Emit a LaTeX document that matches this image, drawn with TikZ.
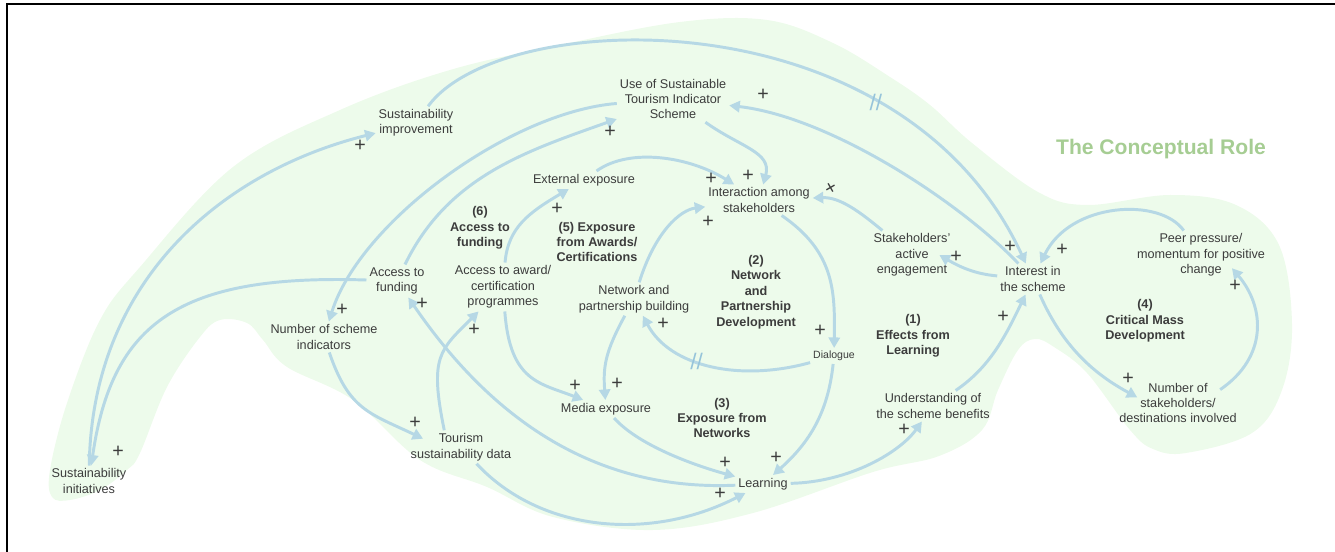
\documentclass[tikz,border=0pt]{standalone}
\usepackage{fontspec}
\setmainfont{Liberation Sans}
\usetikzlibrary{arrows.meta}
\definecolor{blob}{RGB}{237,251,235}
\definecolor{flow}{RGB}{182,216,229}
\definecolor{flowdark}{RGB}{150,196,218}
\definecolor{ink}{RGB}{60,60,60}
\definecolor{rolegreen}{RGB}{166,205,147}

\begin{document}
\begin{tikzpicture}[x=0.025cm, y=0.025cm,
		    var/.style={align=center, text=ink, inner sep=2pt, font=\fontsize{9}{11}\selectfont},
		    loopname/.style={var, font=\fontsize{9}{11}\selectfont\bfseries},
		    link/.style={draw=flow, line width=2.1pt, -{Triangle[length=7.5pt,width=8pt]}},
		    sign/.style={text=ink, inner sep=0pt, font=\fontsize{14}{14}\selectfont},
		    delay/.style={text=flowdark, inner sep=0pt, font=\fontsize{16}{16}\selectfont}]

\useasboundingbox (0,0) rectangle (1335,552);
\fill[blob] plot[smooth cycle, tension=0.6] coordinates {
    (52,55) (50,82) (67,149) (100,232) (140,285) (233,385) (340,442) (450,482)
    (560,507) (680,530) (767,532) (833,509) (890,475) (930,447) (972,409)
    (1038,360) (1087,347) (1170,357) (1236,347) (1279,307) (1292,228) (1282,162)
    (1252,119) (1186,99) (1153,103) (1130,122) (1087,179) (1054,205) (1035,213)
    (1018,202) (998,162) (982,122) (939,96) (873,80) (753,39) (653,22) (553,35)
    (487,65) (420,92) (353,152) (287,185) (263,212) (247,229) (220,232) (200,215)
    (167,165) (140,99) (127,82) (100,62) (70,52)};
\draw[line width=1.4pt] (7,0) -- (7,548.3) -- (1335,548.3);

\node[var] (initiatives) at (89,71) {Sustainability\\initiatives};
\node[var] (improvement) at (416,429) {Sustainability\\improvement};
\node[var] (scheme) at (673,453) {Use of Sustainable\\Tourism Indicator\\Scheme};
\node[var] (external) at (584,372) {External exposure};
\node[var] (interaction) at (759,352) {Interaction among\\stakeholders};
\node[var] (funding) at (397,271) {Access to\\funding};
\node[var] (award) at (503,265) {Access to award/\\certification\\programmes};
\node[var] (network) at (634,253) {Network and\\partnership building};
\node[var] (indicators) at (324,215) {Number of scheme\\indicators};
\node[var] (data) at (461,105) {Tourism\\sustainability data};
\node[var] (media) at (606,143) {Media exposure};
\node[var] (learning) at (763,68) {Learning};
\node[var, font=\fontsize{7.5}{9}\selectfont] (dialogue) at (834,196) {Dialogue};
\node[var] (understanding) at (933,146) {Understanding of\\the scheme benefits};
\node[var] (engagement) at (912,297) {Stakeholders'\\active\\engagement};
\node[var] (interest) at (1033,273) {Interest in\\the scheme};
\node[var] (peer) at (1201,297) {Peer pressure/\\momentum for positive\\change};
\node[var] (involved) at (1178,149) {Number of\\stakeholders/\\destinations involved};

\node[loopname] (loop1) at (913,216) {(1)\\Effects from\\Learning};
\node[loopname] (loop2) at (756,260) {(2)\\Network\\and\\Partnership\\Development};
\node[loopname] (loop3) at (722,134) {(3)\\Exposure from\\Networks};
\node[loopname] (loop4) at (1145,231) {(4)\\Critical Mass\\Development};
\node[loopname] (loop5) at (597,310) {(5) Exposure\\from Awards/\\Certifications};
\node[loopname] (loop6) at (480,324) {(6)\\Access to\\funding};
\node[text=rolegreen, font=\fontsize{15}{18}\selectfont\bfseries] (title) at (1161,403) {The Conceptual Role};

\draw[link] (initiatives) .. controls (92,270) and (220,380) .. (improvement);
\draw[link] (improvement) .. controls (500,545) and (900,560) .. (interest) node[delay, pos=0.73] (cut1) {//};
\draw[link] (funding) .. controls (180,278) and (112,230) .. (initiatives);
\draw[link] (scheme) .. controls (510,440) and (360,330) .. (indicators);
\draw[link] (funding) .. controls (448,376) and (527,401) .. (scheme);
\draw[link] (indicators) .. controls (349,142) and (369,139) .. ([xshift=11pt,yshift=-6pt]data.north west);
\draw[link] (data.135) .. controls (429,196) and (440,202) .. (award);
\draw[link] (data) .. controls (540,20) and (650,10) .. (learning);
\draw[link] (learning) .. controls (580,60) and (480,150) .. (funding);
\draw[link] (award) .. controls (508,325) and (530,340) .. (external);
\draw[link] (award) .. controls (510,170) and (540,169) .. (media);
\draw[link] (external) .. controls (630,405) and (690,395) .. (interaction);
\draw[link] (scheme) .. controls (740,405) and (772,400) .. (interaction);
\draw[link] (network) .. controls (655,320) and (680,342) .. (interaction);
\draw[link] (engagement) .. controls (860,340) and (840,355) .. (interaction);
\draw[link] (interaction) .. controls (835,300) and (835,260) .. (dialogue);
\draw[link] (dialogue) .. controls (740,170) and (670,185) .. (network) node[delay, pos=0.58] (cut2) {//};
\draw[link] (network) .. controls (605,200) and (603,185) .. (media);
\draw[link] (media) .. controls (640,105) and (700,85) .. (learning);
\draw[link] (dialogue) .. controls (828,140) and (810,110) .. (learning);
\draw[link] (learning) .. controls (850,70) and (900,100) .. (understanding);
\draw[link] (understanding) .. controls (990,185) and (1005,215) .. (interest);
\draw[link] (interest) .. controls (975,278) and (960,285) .. ([xshift=-10pt]engagement.east);
\draw[link] (interest) .. controls (960,350) and (830,435) .. (scheme);
\draw[link] (interest) .. controls (1065,200) and (1100,175) .. ([xshift=15pt,yshift=4pt]involved.west);
\draw[link] ([xshift=-14pt,yshift=-7pt]involved.north east) .. controls (1268,195) and (1265,245) .. ([xshift=22pt,yshift=8pt]peer.south);
\draw[link] (peer) .. controls (1160,355) and (1070,350) .. (interest);

\foreach \x/\y [count=\i] in {360/406, 1010/305, 118/100, 342/242, 610/420, 415/129, 474/222,
    720/58, 422/248, 557/343, 575/166, 711/373, 748/376, 708/330, 820/221, 663/228,
    617/168, 725/89, 776/94, 904/122, 1003/235, 956/295, 763/457, 1128/173, 1235/266, 1062/302}
  \node[sign] (plus\i) at (\x,\y) {+};
\node[sign, rotate=30] (minusplus) at (831,363) {+};
\end{tikzpicture}
\end{document}
